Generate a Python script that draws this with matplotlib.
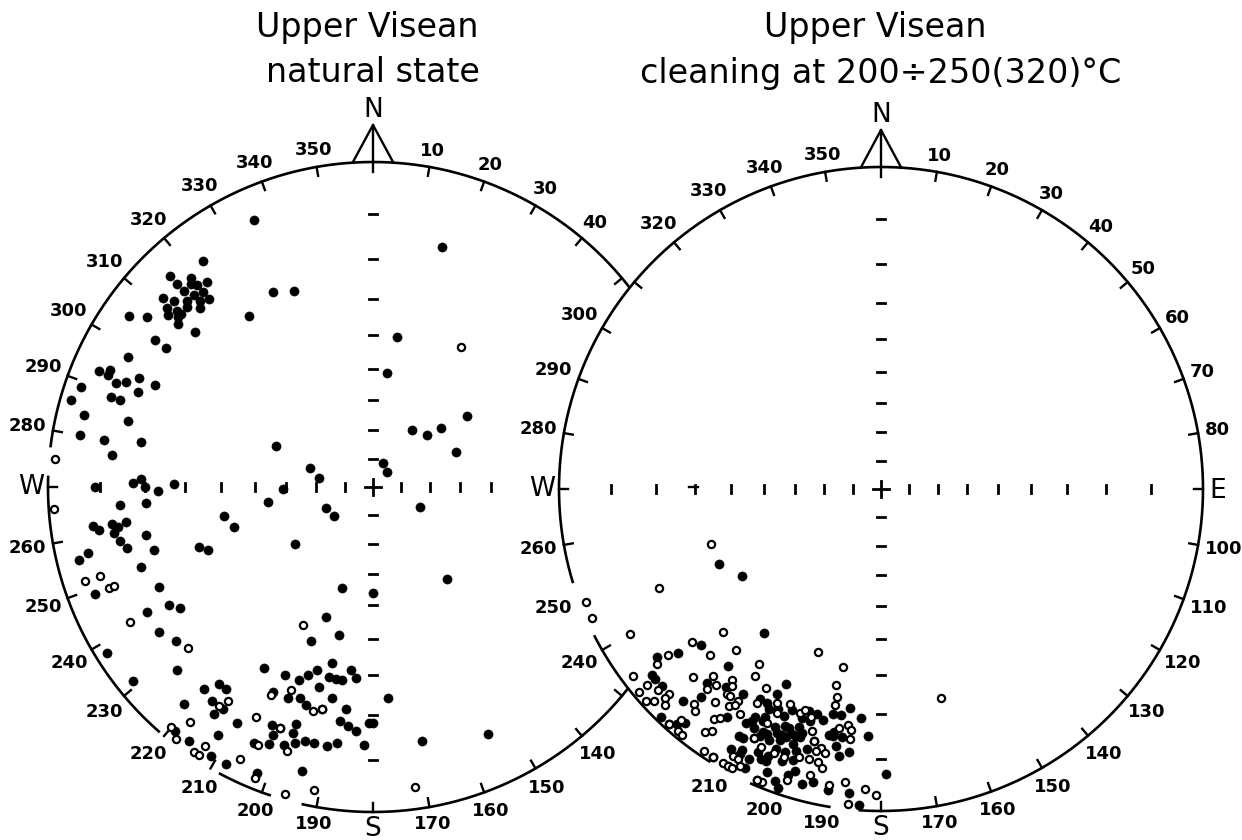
"""
Upper Visean palaeomagnetic directions - two Wulff (equal-angle) nets.
Left: natural state, right: after thermal cleaning.
Output: out.png
"""
import numpy as np
import matplotlib
matplotlib.use("Agg")
import matplotlib.pyplot as plt

# ── data: declination / inclination in degrees ───────────────────────────────
# negative inclination = upper hemisphere (open symbol)
left_dec = [
    336, 323, 316, 319, 316, 318, 319, 321, 316, 317,
    319, 319, 312, 313, 315, 317, 311, 312, 314, 316,
    310, 311, 312, 310, 311, 305, 307, 304, 304, 333,
    338, 324, 9, 7, 298, 293, 294, 293, 292, 293,
    295, 295, 289, 292, 289, 289, 286, 284, 285, 280,
    280, 281, 277, 34, 293, 287, 279, 22, 43, 270,
    271, 272, 270, 269, 271, 269, 16, 53, 46, 49,
    67, 266, 266, 262, 246, 234, 259, 254, 262, 261,
    262, 262, 261, 260, 258, 258, 256, 254, 251, 249,
    234, 257, 256, 251, 245, 249, 197, 180, 240, 238,
    241, 200, 236, 232, 193, 202, 238, 227, 231, 193,
    211, 205, 201, 199, 197, 193, 191, 189, 187, 185,
    220, 218, 216, 217, 214, 215, 210, 221, 206, 202,
    199, 197, 195, 193, 191, 187, 188, 186, 184, 182,
    181, 180, 176, 203, 202, 201, 198, 198, 197, 199,
    195, 193, 190, 188, 205, 202, 212, 216, 219, 211,
    208, 194, 202, 113, 141, 169, 155,
    # open
    275, 32, 266, 252, 252, 249, 249, 241, 229, 207,
    202, 206, 195, 193, 214, 215, 207, 201, 204, 198,
    220, 218, 218, 214, 213, 213, 206, 202, 196, 191,
    172,
]
left_inc = [
    6, 8, 6, 9, 8, 10, 11, 12, 10, 12,
    13, 15, 8, 10, 12, 14, 10, 12, 13, 15,
    11, 13, 13, 14, 18, 5, 8, 12, 15, 22,
    24, 24, 40, 51, 9, 5, 7, 7, 9, 11,
    13, 17, 3, 14, 9, 11, 2, 5, 14, 5,
    10, 18, 12, 66, 54, 67, 71, 81, 83, 9,
    17, 19, 20, 23, 27, 59, 15, 50, 64, 59,
    59, 20, 14, 54, 72, 73, 40, 42, 8, 9,
    12, 15, 13, 12, 19, 13, 14, 20, 31, 33,
    57, 6, 4, 16, 18, 5, 54, 54, 18, 20,
    13, 44, 13, 15, 40, 36, 2, 11, 3, 32,
    24, 25, 25, 27, 29, 28, 28, 28, 31, 29,
    12, 15, 15, 11, 11, 9, 10, 7, 20, 20,
    21, 20, 25, 20, 23, 21, 18, 17, 16, 13,
    18, 18, 24, 13, 11, 13, 15, 13, 11, 10,
    12, 12, 12, 13, 8, 9, 6, 2, 2, 2,
    2, 6, 3, 72, 50, 13, 10,
    # open
    -1, -36, -1, -7, -4, -8, -9, -9, -16, -39,
    -22, -19, -19, -20, -13, -11, -13, -13, -8, -9,
    -2, -5, -1, -1, -1, -3, -4, -2, -1, -3,
    -4,
]

right_dec = [
    245, 238, 219, 233, 231, 229, 231, 230, 228, 223,
    224, 222, 221, 220, 221, 221, 212, 218, 222, 209,
    206, 214, 214, 210, 207, 205, 207, 208, 210, 207,
    204, 205, 203, 202, 200, 199, 197, 196, 192, 190,
    188, 185, 183, 191, 192, 190, 187, 189, 206, 204,
    202, 201, 199, 198, 196, 205, 203, 202, 200, 198,
    197, 195, 193, 203, 202, 206, 206, 208, 210, 200,
    198, 190, 186, 179, 199, 203, 210, 184,
    208, 209, 209, 207, 203, 202, 199, 198, 194, 209,
    207, 206, 202, 201, 199, 198, 200, 198, 195, 191,
    189, 204, 208,
    # open
    252, 246, 249, 246, 240, 228, 233, 232, 231, 226,
    232, 225, 222, 230, 230, 228, 228, 227, 226, 226,
    225, 221, 220, 221, 222, 220, 219, 216, 215, 216,
    215, 221, 220, 218, 217, 214, 212, 210, 209, 222,
    201, 192, 215, 214, 210, 193, 192, 192, 218, 217,
    216, 214, 215, 214, 212, 203, 206, 205, 200, 199,
    197, 188, 190, 187, 187, 196, 195, 193, 194, 192,
    193, 195, 197, 192, 194, 209, 208, 207, 208, 202,
    198, 190, 187, 183, 181, 202, 200, 210, 206, 207,
    205, 203, 186, 164,
]
right_inc = [
    32, 36, 30, 8, 12, 17, 5, 5, 5, 6,
    1, 1, 2, 3, 9, 18, 1, 14, 12, 1,
    22, 9, 15, 16, 19, 16, 15, 10, 10, 12,
    12, 10, 11, 13, 12, 14, 16, 18, 19, 19,
    21, 19, 15, 15, 14, 12, 11, 10, 9, 9,
    10, 11, 10, 12, 10, 6, 6, 8, 6, 7,
    5, 3, 4, 5, 3, 4, 2, 5, 4, 2,
    4, 3, 3, 7, 1, 1, 7, 1,
    16, 12, 11, 13, 15, 17, 16, 18, 17, 7,
    8, 10, 11, 13, 12, 13, 8, 9, 12, 14,
    14, 5, 4,
    # open
    -32, -16, -1, -1, -6, -23, -2, -10, -16, -17,
    -7, -11, -14, -3, -1, -4, -1, -2, -5, -4,
    -3, -7, -6, -3, -1, -1, -1, -4, -5, -7,
    -8, -11, -13, -10, -13, -1, -1, -1, -1, -22,
    -33, -31, -23, -20, -19, -26, -23, -21, -16, -15,
    -13, -13, -11, -12, -11, -18, -17, -15, -17, -18,
    -17, -17, -16, -16, -14, -14, -12, -11, -10, -10,
    -8, -8, -8, -7, -5, -3, -3, -2, -1, -1,
    -3, -4, -5, -4, -3, -7, -7, -15, -12, -8,
    -7, -1, -1, -22,
]

left_title = ["Upper Visean", "natural state"]
right_title = ["Upper Visean", "cleaning at 200÷250(320)°C"]

left_ring_labels = [10, 20, 30, 40, 140, 150, 160, 170, 190, 200, 210, 220,
                    230, 240, 250, 260, 280, 290, 300, 310, 320, 330, 340, 350]
right_ring_labels = [10, 20, 30, 40, 50, 60, 70, 80, 100, 110, 120, 130, 140,
                     150, 160, 170, 190, 200, 210, 240, 250, 260, 280, 290,
                     300, 320, 330, 340, 350]
axis_inc_ticks = [10, 20, 30, 40, 50, 60, 70, 80]

# ── layout (pixel units, y pointing down) ────────────────────────────────────
W_PX, H_PX = 1242, 840
LEFT = dict(cx=373, cy=487, R=325)
RIGHT = dict(cx=881, cy=489, R=322)
LEFT_GAPS = [(192.7, 198.3), (208.3, 221.0), (272.0, 277.0)]
RIGHT_ARCS = [(253.0, 544.0), (189.0, 204.0), (212.0, 243.0)]
RIGHT_NO_TICK = {190, 200, 210, 220, 230, 250}
LW = 1.9
TICK = 9


def ring_xy(net, dec, rad):
    d = np.radians(dec)
    return net["cx"] + rad * np.sin(d), net["cy"] - rad * np.cos(d)


def wulff_r(inc):
    return np.tan(np.radians(90.0 - np.abs(np.asarray(inc, float))) / 2.0)


def draw_arc(ax, net, a0, a1):
    t = np.linspace(a0, a1, max(int(abs(a1 - a0) * 2), 4))
    x, y = ring_xy(net, t, net["R"])
    ax.plot(x, y, color="k", lw=LW, solid_capstyle="butt")


def draw_net(ax, net, arcs, tick_decs, labels, points, east_min_inc=0):
    cx, cy, R = net["cx"], net["cy"], net["R"]
    for a0, a1 in arcs:
        draw_arc(ax, net, a0, a1)

    # ring ticks (inward)
    for d in tick_decs:
        x, y = ring_xy(net, [d, d], [R, R - TICK])
        ax.plot(x, y, color="k", lw=1.7)

    # ring labels
    for lab in labels:
        s, c = np.sin(np.radians(lab)), np.cos(np.radians(lab))
        off = 6 + 6.2 * len(str(lab)) * abs(s) + 8 * abs(c)
        x, y = ring_xy(net, lab, R + off)
        ax.text(x, y, str(lab), ha="center", va="center",
                fontsize=13, fontweight="bold")

    # N arrow
    apex = cy - R - 37
    bx, by = ring_xy(net, 3.6, R)
    ax.plot([cx - (bx - cx), cx, bx], [by, apex, by], color="k", lw=1.7)
    ax.plot([cx, cx], [apex, cy - R + TICK + 1], color="k", lw=1.7)
    ax.text(cx, apex - 15, "N", ha="center", va="center", fontsize=19)
    # W, E, S marks
    for d in (90, 180, 270):
        x, y = ring_xy(net, [d, d], [R, R - TICK])
        ax.plot(x, y, color="k", lw=1.7)
    ax.text(cx - R - 17, cy, "W", ha="center", va="center", fontsize=19)
    ax.text(cx, cy + R + 17, "S", ha="center", va="center", fontsize=19)

    # cross-axis ticks (every 10 deg of inclination)
    for inc in axis_inc_ticks:
        r = wulff_r(inc) * R
        ax.plot([cx - r] * 2, [cy - 4, cy + 4], color="k", lw=2.0)
        if inc >= east_min_inc:
            ax.plot([cx + r] * 2, [cy - 4, cy + 4], color="k", lw=2.0)
        for sgn in (-1, 1):
            ax.plot([cx - 4, cx + 4], [cy + sgn * r] * 2, color="k", lw=2.0)
    ax.plot([cx - 8, cx + 8], [cy, cy], color="k", lw=2.0)
    ax.plot([cx, cx], [cy - 8, cy + 8], color="k", lw=2.0)

    # data
    dec = np.asarray(points[0], float)
    inc = np.asarray(points[1], float)
    x, y = ring_xy(net, dec, wulff_r(inc) * R)
    down = inc >= 0
    ax.plot(x[down], y[down], "o", ms=6.6, mfc="k", mec="k", mew=0.4,
            ls="none", zorder=3)
    ax.plot(x[~down], y[~down], "o", ms=5.2, mfc="white", mec="k", mew=1.6,
            ls="none", zorder=4)


def circle_intersections(a, b):
    dx, dy = b["cx"] - a["cx"], b["cy"] - a["cy"]
    d = np.hypot(dx, dy)
    m = (d ** 2 + a["R"] ** 2 - b["R"] ** 2) / (2 * d)
    h = np.sqrt(a["R"] ** 2 - m ** 2)
    px, py = a["cx"] + m * dx / d, a["cy"] + m * dy / d
    pts = [(px - h * dy / d, py + h * dx / d), (px + h * dy / d, py - h * dx / d)]
    decs = [np.degrees(np.arctan2(x - a["cx"], a["cy"] - y)) % 360 for x, y in pts]
    return sorted(decs)


fig = plt.figure(figsize=(W_PX / 100, H_PX / 100), dpi=100)
ax = fig.add_axes([0, 0, 1, 1])
ax.set_xlim(0, W_PX)
ax.set_ylim(H_PX, 0)
ax.axis("off")

# left net: arc runs from the lower crossing with the right circle,
# round through S, W and N, to the upper crossing
d_up, d_low = circle_intersections(LEFT, RIGHT)
edges = [d_low] + [v for g in LEFT_GAPS for v in g] + [d_up + 360]
left_arcs = [(edges[i], edges[i + 1]) for i in range(0, len(edges), 2)]
left_ticks = [d for d in range(130, 420, 10) if d not in (180, 270, 360)]
draw_net(ax, LEFT, left_arcs, left_ticks, left_ring_labels,
         (left_dec, left_inc), east_min_inc=50)

right_ticks = [d for d in range(10, 360, 10)
               if d not in (90, 180, 270) and d not in RIGHT_NO_TICK]
draw_net(ax, RIGHT, RIGHT_ARCS, right_ticks, right_ring_labels,
         (right_dec, right_inc))
ax.text(RIGHT["cx"] + RIGHT["R"] + 15, RIGHT["cy"] + 2, "E",
        ha="center", va="center", fontsize=19)

# titles
for net, lines in ((LEFT, left_title), (RIGHT, right_title)):
    ax.text(net["cx"] - 6, 27, lines[0], ha="center", va="center", fontsize=24)
    ax.text(net["cx"], 73, lines[1], ha="center", va="center", fontsize=24)

fig.savefig("out.png", dpi=100, facecolor="white")
plt.close(fig)
